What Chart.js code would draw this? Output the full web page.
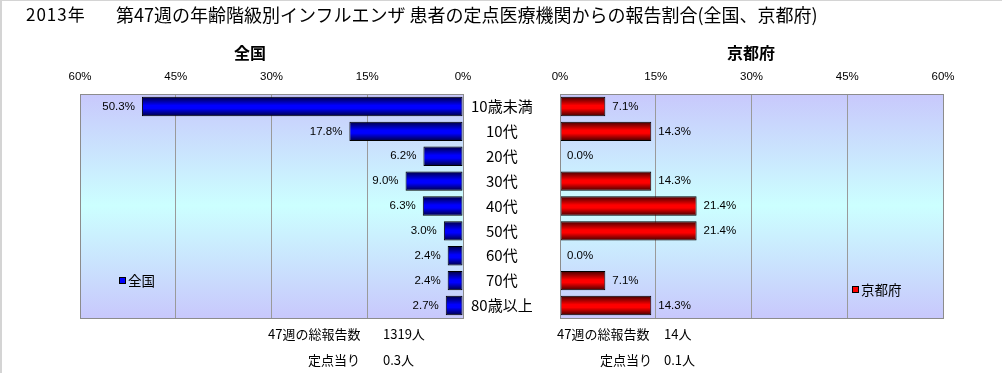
<!DOCTYPE html>
<html>
<head>
<meta charset="utf-8">
<style>
    body { margin: 0; background: #fff; }
    #wrap { position: relative; width: 1002px; height: 373px; overflow: hidden; }
    #wrap canvas { position: absolute; left: 0; top: 0; }
    .edge { position: absolute; background: #d4d4d4; }
    .txt { position: absolute; white-space: nowrap; font-family: "Noto Sans CJK JP", "DejaVu Sans", sans-serif; color: #000; line-height: 1; }
    .sq { display: inline-block; width: 5px; height: 5px; border: 1px solid #000; margin-right: 2px; vertical-align: 2px; }
</style>
</head>
<body>
<div id="wrap">
    <div class="edge" style="left:0; top:0; width:1002px; height:1px;"></div>
    <div class="edge" style="left:0; top:0; width:2px; height:373px;"></div>
    <canvas id="chartZenkoku" width="1002" height="373"></canvas>
    <canvas id="chartKyoto" width="1002" height="373"></canvas>

    <div class="txt" style="left:26px; top:5px; font-size:17px; letter-spacing:1px;">2013年</div>
    <div class="txt" style="left:116px; top:5px; font-size:18px;">第47週の年齢階級別インフルエンザ 患者の定点医療機関からの報告割合(全国、京都府)</div>

    <div class="txt" style="left:234px; top:44px; font-size:16px; font-weight:bold;">全国</div>
    <div class="txt" style="left:727px; top:44px; font-size:16px; font-weight:bold;">京都府</div>

    <div class="txt" style="left:119px; top:274px; font-size:13.5px;"><span class="sq" style="background:#0000ff"></span>全国</div>
    <div class="txt" style="left:852px; top:283px; font-size:13.5px;"><span class="sq" style="background:#ff0000"></span>京都府</div>

    <div class="txt" style="left:268px; top:327px; font-size:13px;">47週の総報告数</div>
    <div class="txt" style="left:383px; top:327px; font-size:13px;">1319人</div>
    <div class="txt" style="left:308px; top:353px; font-size:13px;">定点当り</div>
    <div class="txt" style="left:383px; top:353px; font-size:13px;">0.3人</div>

    <div class="txt" style="left:557px; top:327px; font-size:13px;">47週の総報告数</div>
    <div class="txt" style="left:664px; top:327px; font-size:13px;">14人</div>
    <div class="txt" style="left:600px; top:353px; font-size:13px;">定点当り</div>
    <div class="txt" style="left:664px; top:353px; font-size:13px;">0.1人</div>
</div>

<script src="https://cdn.jsdelivr.net/npm/chart.js"></script>
<script type="text/javascript">
    // age groups and percentages
    const ageGroups = ['10歳未満', '10代', '20代', '30代', '40代', '50代', '60代', '70代', '80歳以上'];
    const zenkokuPct = [50.3, 17.8, 6.2, 9.0, 6.3, 3.0, 2.4, 2.4, 2.7];
    const kyotoPct = [7.1, 14.3, 0.0, 14.3, 21.4, 21.4, 0.0, 7.1, 14.3];
    const xTicks = [0, 15, 30, 45, 60];

    const numFont = { family: '"Liberation Sans", Arial, sans-serif', size: 11.5 };
    const BAR_PCT = 0.78;

    function barGradient(dark, bright) {
        return (ctx) => {
            const chart = ctx.chart;
            const y = chart.scales.y;
            if (!chart.chartArea || !y || ctx.dataIndex === undefined) return bright;
            const c = y.getPixelForValue(ctx.dataIndex);
            const h = (chart.chartArea.bottom - chart.chartArea.top) / ageGroups.length * BAR_PCT;
            const g = chart.ctx.createLinearGradient(0, c - h / 2, 0, c + h / 2);
            g.addColorStop(0, dark);
            g.addColorStop(0.45, bright);
            g.addColorStop(0.6, bright);
            g.addColorStop(1, dark);
            return g;
        };
    }

    const plotBackground = {
        id: 'plotBackground',
        beforeDraw(chart) {
            const { ctx, chartArea: a } = chart;
            const g = ctx.createLinearGradient(0, a.top, 0, a.bottom);
            g.addColorStop(0, '#c8c8fc');
            g.addColorStop(0.5, '#ccffff');
            g.addColorStop(1, '#c8c8fc');
            ctx.save();
            ctx.fillStyle = g;
            ctx.fillRect(a.left, a.top, a.right - a.left, a.bottom - a.top);
            ctx.restore();
        },
        afterDraw(chart) {
            const { ctx, chartArea: a } = chart;
            ctx.save();
            ctx.strokeStyle = '#8c8c8c';
            ctx.lineWidth = 1;
            ctx.strokeRect(Math.round(a.left) + 0.5, Math.round(a.top) + 0.5, Math.round(a.right - a.left), Math.round(a.bottom - a.top));
            ctx.restore();
        }
    };

    const valueLabels = {
        id: 'valueLabels',
        afterDatasetsDraw(chart, args, opts) {
            const { ctx } = chart;
            const meta = chart.getDatasetMeta(0);
            const data = chart.data.datasets[0].data;
            ctx.save();
            ctx.font = numFont.size + 'px ' + numFont.family;
            ctx.fillStyle = '#000';
            ctx.textBaseline = 'middle';
            ctx.textAlign = opts.side === 'left' ? 'right' : 'left';
            meta.data.forEach((bar, i) => {
                const x = opts.side === 'left' ? bar.x - 7 : bar.x + 7;
                ctx.fillText(data[i].toFixed(1) + '%', x, bar.y);
            });
            ctx.restore();
        }
    };

    function xAxis(reverse) {
        return {
            position: 'top',
            reverse: reverse,
            min: 0,
            max: 60,
            afterBuildTicks: (scale) => { scale.ticks = xTicks.map(v => ({ value: v })); },
            afterFit: (scale) => { scale.height = 30; },
            border: { display: false },
            grid: { color: '#9a9a9a', drawTicks: false },
            ticks: {
                padding: 10,
                color: '#000',
                font: numFont,
                callback: (v) => v + '%'
            }
        };
    }

    new Chart(document.getElementById('chartZenkoku'), {
        type: 'bar',
        data: {
            labels: ageGroups,
            datasets: [{
                label: '全国',
                data: zenkokuPct,
                backgroundColor: barGradient('#000040', '#0000ff'),
                borderColor: '#000',
                borderWidth: 1,
                borderSkipped: false,
                barPercentage: BAR_PCT,
                categoryPercentage: 1
            }]
        },
        options: {
            indexAxis: 'y',
            responsive: false,
            animation: false,
            events: [],
            layout: { padding: { left: 80, right: 442, top: 64, bottom: 55 } },
            scales: {
                x: xAxis(true),
                y: {
                    position: 'right',
                    afterFit: (scale) => { scale.width = 97; },
                    border: { display: false },
                    grid: { display: false },
                    ticks: {
                        crossAlign: 'center',
                        padding: 0,
                        color: '#000',
                        font: { family: '"Noto Sans CJK JP", sans-serif', size: 15 }
                    }
                }
            },
            plugins: {
                legend: { display: false },
                tooltip: { enabled: false },
                valueLabels: { side: 'left' }
            }
        },
        plugins: [plotBackground, valueLabels]
    });

    new Chart(document.getElementById('chartKyoto'), {
        type: 'bar',
        data: {
            labels: ageGroups,
            datasets: [{
                label: '京都府',
                data: kyotoPct,
                backgroundColor: barGradient('#400000', '#ff0000'),
                borderColor: '#000',
                borderWidth: 1,
                borderSkipped: false,
                barPercentage: BAR_PCT,
                categoryPercentage: 1
            }]
        },
        options: {
            indexAxis: 'y',
            responsive: false,
            animation: false,
            events: [],
            layout: { padding: { left: 560, right: 59, top: 64, bottom: 55 } },
            scales: {
                x: xAxis(false),
                y: { display: false }
            },
            plugins: {
                legend: { display: false },
                tooltip: { enabled: false },
                valueLabels: { side: 'right' }
            }
        },
        plugins: [plotBackground, valueLabels]
    });
</script>
</body>
</html>
